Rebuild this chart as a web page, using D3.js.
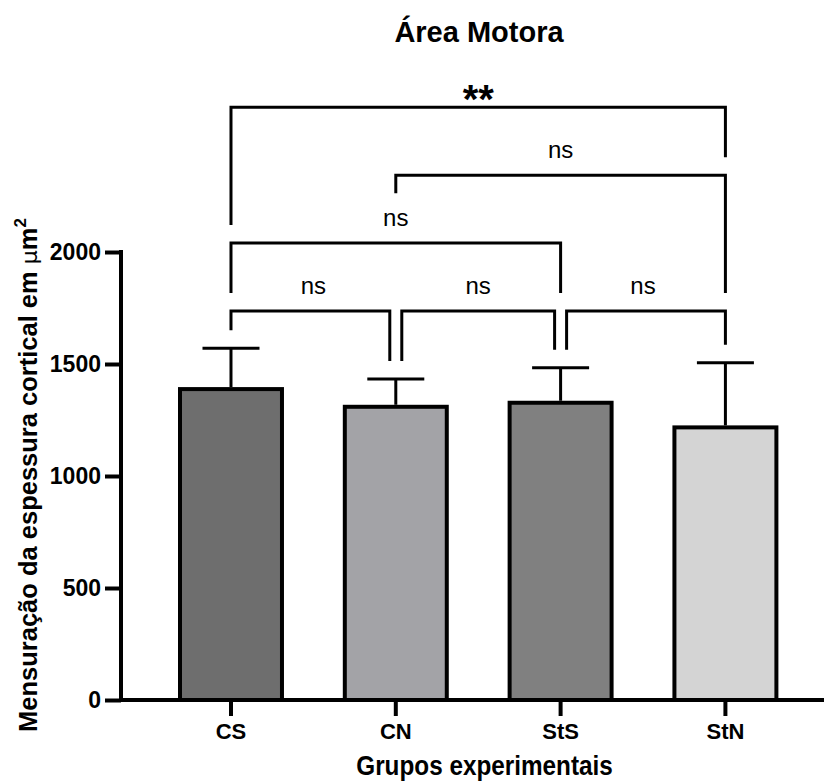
<!DOCTYPE html>
<html>
<head>
<meta charset="utf-8">
<script src="https://cdn.jsdelivr.net/npm/d3@7"></script>
<style>
  body { margin: 0; background: #fff; }
  text { font-family: "Liberation Sans", Arial, Helvetica, sans-serif; }
</style>
</head>
<body>
<svg id="chart" width="824" height="782"></svg>
<script>
// données
const groupes = ["CS", "CN", "StS", "StN"];
const moyennes = [1388, 1309, 1327, 1217];
const ecarts = [182, 124, 156, 289];
const couleurs = ["#6e6e6e", "#a3a3a7", "#808080", "#d4d4d4"];
const ticksY = [0, 500, 1000, 1500, 2000];

// comparaisons (indices des groupes, texte, niveau)
const compA = [0, 1, 2, 0, 1, 0];
const compB = [1, 2, 3, 2, 3, 3];
const compTexte = ["ns", "ns", "ns", "ns", "ns", "**"];
const compNiveau = [0, 0, 0, 1, 2, 3];
const compJambeCourte = [false, false, false, false, true, false]; // jambe gauche courte

const titre = "Área Motora";
const titreX = "Grupos experimentais";

// mise en page
const yBas = 700, yHaut = 252;
const axeX = 121;
const niveauBase = 1737, niveauPas = 303; // hauteur des crochets en unités de l'axe
const ecart = 18;

const svg = d3.select("#chart");

const x = d3.scaleBand()
  .domain(groupes)
  .range([95.6, 860.8])
  .paddingInner(0.357)
  .paddingOuter(0.5);

const y = d3.scaleLinear()
  .domain([0, 2000])
  .range([yBas, yHaut]);

// barres
const bw = x.bandwidth();
svg.append("g").selectAll("rect")
  .data(groupes)
  .enter()
  .append("rect")
  .attr("x", d => x(d) + 2)
  .attr("y", (d, i) => y(moyennes[i]))
  .attr("width", bw - 4)
  .attr("height", (d, i) => y(0) - y(moyennes[i]))
  .attr("fill", (d, i) => couleurs[i])
  .attr("stroke", "#000")
  .attr("stroke-width", 4);

// barres d'erreur
const err = svg.append("g").attr("stroke", "#000").attr("stroke-width", 3);
groupes.forEach(function(g, i) {
  const cx = x(g) + bw / 2;
  err.append("line")
    .attr("x1", cx).attr("x2", cx)
    .attr("y1", y(moyennes[i]) - 2)
    .attr("y2", y(moyennes[i] + ecarts[i]));
  err.append("line")
    .attr("x1", cx - 28.5).attr("x2", cx + 28.5)
    .attr("y1", y(moyennes[i] + ecarts[i]))
    .attr("y2", y(moyennes[i] + ecarts[i]));
});

// axe Y
const axeGauche = svg.append("g")
  .attr("transform", "translate(" + axeX + ",0)")
  .call(d3.axisLeft(y).tickValues(ticksY).tickFormat(d3.format("d"))
    .tickSize(16).tickSizeOuter(0).tickPadding(4));
axeGauche.select(".domain").attr("stroke-width", 4).attr("d", "M0," + (y(2000) - 2) + "V" + y(0));
axeGauche.selectAll(".tick line").attr("stroke-width", 4);
axeGauche.selectAll(".tick text")
  .style("font-size", "23px").style("font-weight", "bold").attr("fill", "#000")
  .style("font-family", "'Liberation Sans', Arial, sans-serif");

// axe X
svg.append("line")
  .attr("x1", axeX - 2).attr("x2", 824)
  .attr("y1", yBas).attr("y2", yBas)
  .attr("stroke", "#000").attr("stroke-width", 4);
const axeBas = svg.append("g")
  .attr("transform", "translate(0," + yBas + ")")
  .call(d3.axisBottom(x).tickSize(16).tickSizeOuter(0).tickPadding(7));
axeBas.select(".domain").remove();
axeBas.selectAll(".tick line").attr("stroke-width", 4);
axeBas.selectAll(".tick text")
  .style("font-size", "22px").style("font-weight", "bold").attr("fill", "#000")
  .style("font-family", "'Liberation Sans', Arial, sans-serif");

// crochets de comparaison
function centre(i) { return x(groupes[i]) + bw / 2; }
function yNiveau(n) { return y(niveauBase + n * niveauPas); }

function sommetObstacle(g, niveau) {
  let haut = y(moyennes[g] + ecarts[g]);
  for (let k = 0; k < compA.length; k++) {
    if (compNiveau[k] < niveau && compA[k] <= g && compB[k] >= g) {
      haut = Math.min(haut, yNiveau(compNiveau[k]));
    }
  }
  return haut;
}

function partage(k, g) {
  for (let j = 0; j < compA.length; j++) {
    if (j != k && compNiveau[j] == compNiveau[k] && (compA[j] == g || compB[j] == g)) return true;
  }
  return false;
}

const crochets = svg.append("g")
  .attr("fill", "none").attr("stroke", "#000").attr("stroke-width", 3);

for (let k = 0; k < compA.length; k++) {
  const yh = yNiveau(compNiveau[k]);
  const xa = centre(compA[k]) + (partage(k, compA[k]) ? 6 : 0);
  const xb = centre(compB[k]) - (partage(k, compB[k]) ? 6 : 0);
  const ya = compJambeCourte[k] ? yh + ecart : sommetObstacle(compA[k], compNiveau[k]) - ecart;
  const yb = sommetObstacle(compB[k], compNiveau[k]) - ecart;
  crochets.append("path")
    .attr("d", "M" + xa + "," + ya + "V" + yh + "H" + xb + "V" + yb);

  const etoiles = compTexte[k] != "ns";
  svg.append("text")
    .attr("x", (centre(compA[k]) + centre(compB[k])) / 2)
    .attr("y", etoiles ? yh + 6 : yh - 17)
    .attr("text-anchor", "middle")
    .attr("font-size", etoiles ? 40 : 24)
    .attr("font-weight", etoiles ? "bold" : "normal")
    .text(compTexte[k]);
}

// titres
svg.append("text")
  .attr("x", 479).attr("y", 42)
  .attr("text-anchor", "middle")
  .attr("font-size", 29).attr("font-weight", "bold")
  .text(titre);

svg.append("text")
  .attr("transform", "translate(484.5,775) scale(0.9,1)")
  .attr("text-anchor", "middle")
  .attr("font-size", 27).attr("font-weight", "bold")
  .text(titreX);

const titreY = svg.append("text")
  .attr("transform", "translate(37,475) rotate(-90)")
  .attr("text-anchor", "middle")
  .attr("font-size", 25.5).attr("font-weight", "bold");
titreY.append("tspan").text("Mensuração da espessura cortical em ");
titreY.append("tspan").attr("font-weight", "normal").attr("font-family", "'DejaVu Sans', sans-serif").attr("font-size", 22).text("μ");
titreY.append("tspan").text("m");
titreY.append("tspan").attr("font-size", 17).attr("dy", -11).text("2");
</script>
</body>
</html>
